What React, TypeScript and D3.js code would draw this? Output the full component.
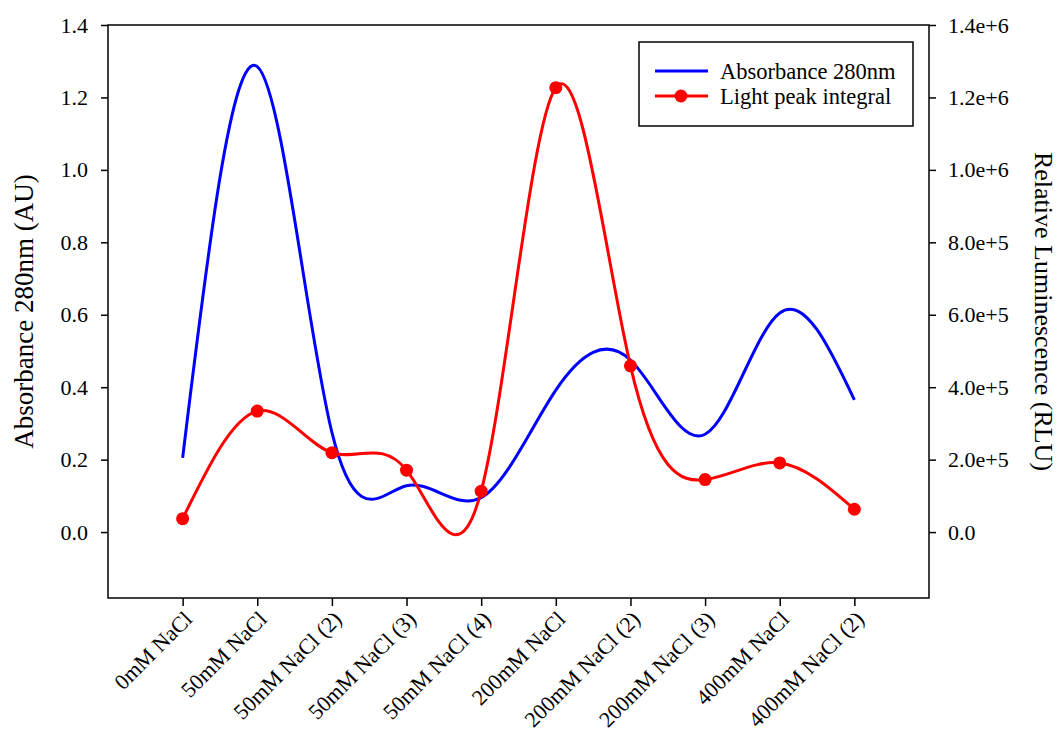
import { useEffect, useRef } from 'react'
import * as d3 from 'd3'

const categories = [
  '0mM NaCl',
  '50mM NaCl',
  '50mM NaCl (2)',
  '50mM NaCl (3)',
  '50mM NaCl (4)',
  '200mM NaCl',
  '200mM NaCl (2)',
  '200mM NaCl (3)',
  '400mM NaCl',
  '400mM NaCl (2)'
]
const absorbance = [0.205, 1.285, 0.275, 0.128, 0.095, 0.392, 0.475, 0.27, 0.605, 0.365]
const lightPeak = [37000, 334000, 219000, 171000, 113000, 1227000, 459000, 145000, 191000, 63000]
const leftTicks = [0, 0.2, 0.4, 0.6, 0.8, 1.0, 1.2, 1.4]
const rightTicks = [0, 200000, 400000, 600000, 800000, 1000000, 1200000, 1400000]
const rightTickLabels = ['0.0', '2.0e+5', '4.0e+5', '6.0e+5', '8.0e+5', '1.0e+6', '1.2e+6', '1.4e+6']

const W = 1059
const H = 741
const m = { top: 25, right: 130, bottom: 143, left: 108 }
const FONT = '"Liberation Serif", "Times New Roman", serif'

export default function App() {
  const ref = useRef<SVGSVGElement>(null)

  useEffect(() => {
    if (!ref.current) return
    const svg = d3.select(ref.current)
    svg.selectAll('*').remove()

    const x = d3.scaleLinear().domain([0, categories.length + 1]).range([m.left, W - m.right])
    const yL = d3.scaleLinear().domain([-0.182, 1.4]).range([H - m.bottom, m.top])
    const yR = d3.scaleLinear().domain([-182000, 1400000]).range([H - m.bottom, m.top])

    const g = svg.append('g').style('font-family', FONT)

    // frame
    g.append('rect')
      .attr('x', m.left).attr('y', m.top)
      .attr('width', W - m.right - m.left).attr('height', H - m.bottom - m.top)
      .attr('fill', 'none').attr('stroke', '#000').attr('stroke-width', 1.5)

    // left axis
    const left = g.append('g').attr('transform', `translate(${m.left},0)`)
      .call(d3.axisLeft(yL).tickValues(leftTicks).tickFormat(d3.format('.1f')).tickSize(7).tickPadding(13))
    // bottom axis
    const bottom = g.append('g').attr('transform', `translate(0,${H - m.bottom})`)
      .call(d3.axisBottom(x).tickValues(categories.map((_, i) => i + 1))
        .tickFormat((_, i) => categories[i]).tickSize(8).tickPadding(4))
    // right axis
    const right = g.append('g').attr('transform', `translate(${W - m.right},0)`)
      .call(d3.axisRight(yR).tickValues(rightTicks).tickFormat((_, i) => rightTickLabels[i]).tickSize(7).tickPadding(12))

    for (const ax of [left, bottom, right]) {
      ax.select('.domain').remove()
      ax.selectAll('line').attr('stroke', '#000').attr('stroke-width', 1.5)
      ax.selectAll('text').attr('fill', '#000').style('font-size', '22px').style('font-family', FONT)
    }

    bottom.selectAll<SVGTextElement, number>('text')
      .attr('text-anchor', 'end')
      .attr('y', 0)
      .attr('dy', '0.35em')
      .attr('transform', 'translate(5,17) rotate(-45)')

    // axis titles
    g.append('text')
      .attr('transform', `translate(33,${(m.top + H - m.bottom) / 2}) rotate(-90)`)
      .attr('text-anchor', 'middle')
      .style('font-size', '27px')
      .text('Absorbance 280nm (AU)')
    g.append('text')
      .attr('transform', `translate(1035,${(m.top + H - m.bottom) / 2}) rotate(90)`)
      .attr('text-anchor', 'middle')
      .style('font-size', '26px')
      .text('Relative Luminescence (RLU)')

    // lines
    const blueLine = d3.line<number>()
      .x((_, i) => x(i + 1)).y(d => yL(d))
      .curve(d3.curveNatural)
    const redLine = d3.line<number>()
      .x((_, i) => x(i + 1)).y(d => yR(d))
      .curve(d3.curveNatural)

    g.append('path').datum(absorbance)
      .attr('d', blueLine).attr('fill', 'none').attr('stroke', '#0000ff').attr('stroke-width', 3)
    g.append('path').datum(lightPeak)
      .attr('d', redLine).attr('fill', 'none').attr('stroke', '#ff0000').attr('stroke-width', 3)
    g.append('g').selectAll('circle').data(lightPeak).join('circle')
      .attr('cx', (_, i) => x(i + 1)).attr('cy', d => yR(d)).attr('r', 6.5).attr('fill', '#ff0000')

    // legend
    const lg = g.append('g').attr('transform', 'translate(639,42)')
    lg.append('rect').attr('width', 274).attr('height', 84)
      .attr('fill', '#fff').attr('stroke', '#000').attr('stroke-width', 1.5)
    lg.append('line').attr('x1', 16).attr('x2', 69).attr('y1', 29).attr('y2', 29)
      .attr('stroke', '#0000ff').attr('stroke-width', 3)
    lg.append('line').attr('x1', 16).attr('x2', 69).attr('y1', 54).attr('y2', 54)
      .attr('stroke', '#ff0000').attr('stroke-width', 3)
    lg.append('circle').attr('cx', 42).attr('cy', 54).attr('r', 6.5).attr('fill', '#ff0000')
    lg.append('text').attr('x', 81).attr('y', 29).attr('dy', '0.35em')
      .style('font-size', '22.5px').text('Absorbance 280nm')
    lg.append('text').attr('x', 81).attr('y', 54).attr('dy', '0.35em')
      .style('font-size', '22.5px').text('Light peak integral')
  }, [])

  return <svg ref={ref} width={W} height={H} style={{ display: 'block', position: 'absolute', left: 0, top: 0 }} />
}
